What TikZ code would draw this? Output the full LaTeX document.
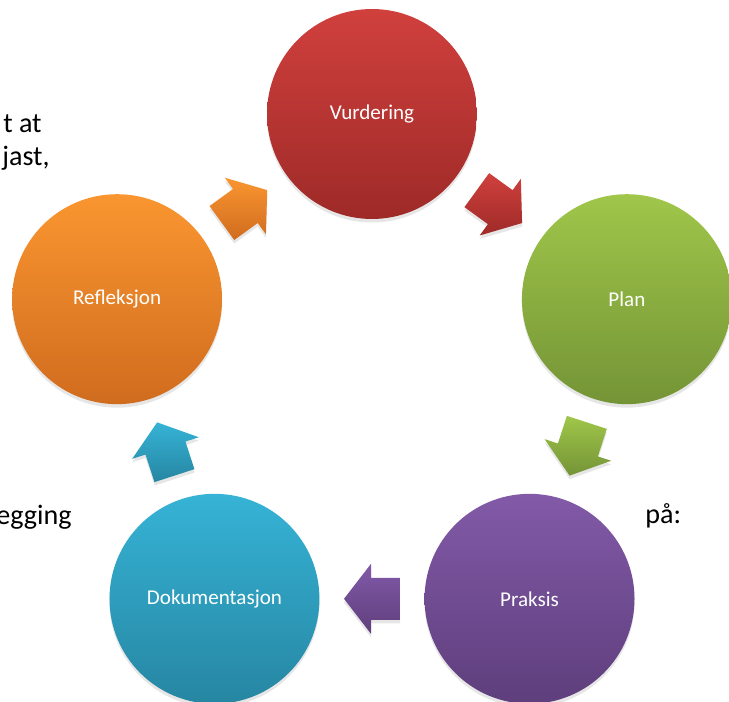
\documentclass[tikz,border=0pt]{standalone}
\usepackage{fontspec}
\setmainfont{Carlito}
\usetikzlibrary{calc, shadows}

\definecolor{vurdtop}{RGB}{208,64,61}
\definecolor{vurdbot}{RGB}{158,42,40}
\definecolor{plantop}{RGB}{160,198,74}
\definecolor{planbot}{RGB}{116,148,54}
\definecolor{praktop}{RGB}{130,90,168}
\definecolor{prakbot}{RGB}{94,62,124}
\definecolor{doktop}{RGB}{54,179,214}
\definecolor{dokbot}{RGB}{38,134,162}
\definecolor{refltop}{RGB}{250,150,48}
\definecolor{reflbot}{RGB}{208,108,30}

\begin{document}
\begin{tikzpicture}[x=0.02cm, y=0.02cm,
   main node/.style={circle, minimum size=4.2cm, inner sep=0pt, text=white, top color=#1top, bottom color=#1bot,
      font=\fontsize{12}{14}\selectfont, drop shadow={shadow xshift=0pt, shadow yshift=-2pt, opacity=.2}},
   arrow node/.style={top color=#1top, bottom color=#1bot,
      drop shadow={shadow xshift=0pt, shadow yshift=-2pt, opacity=.2}},
   page text/.style={font=\fontsize{16}{19}\selectfont, inner sep=0pt}]
   \useasboundingbox (-372,-320) rectangle (357,382);

   \node[page text, anchor=base east] (t1) at (-330,249) {t at};
   \node[page text, anchor=base east] (t2) at (-322,216) {jast,};
   \node[page text, anchor=base east] (t3) at (-300,-142) {egging};
   \node[page text, anchor=base west] (t4) at (273,-141) {på:};

   \node[main node=vurd] (0) at (90:268)   {Vurdering};
   \node[main node=plan] (1) at (18:268)   {Plan};
   \node[main node=prak] (2) at (-54:268)  {Praksis};
   \node[main node=dok]  (3) at (-126:268) {Dokumentasjon};
   \node[main node=refl] (4) at (162:268)  {Refleksjon};

   % block arrows halfway between the circles
   \foreach \a/\b/\ang/\col in {0/1/-36/vurd, 1/2/-108/plan, 2/3/180/prak, 3/4/108/dok, 4/0/36/refl}{
      \coordinate (m\a) at ($(\a)!0.5!(\b)$);
      \path[arrow node=\col] ($(m\a)+(\ang:-28)+(\ang+90:-21)$) -- ($(m\a)+(\ang:1)+(\ang+90:-21)$)
         -- ($(m\a)+(\ang:1)+(\ang+90:-35)$) -- ($(m\a)+(\ang:28)$) -- ($(m\a)+(\ang:1)+(\ang+90:35)$)
         -- ($(m\a)+(\ang:1)+(\ang+90:21)$) -- ($(m\a)+(\ang:-28)+(\ang+90:21)$) -- cycle;
   }
\end{tikzpicture}
\end{document}
